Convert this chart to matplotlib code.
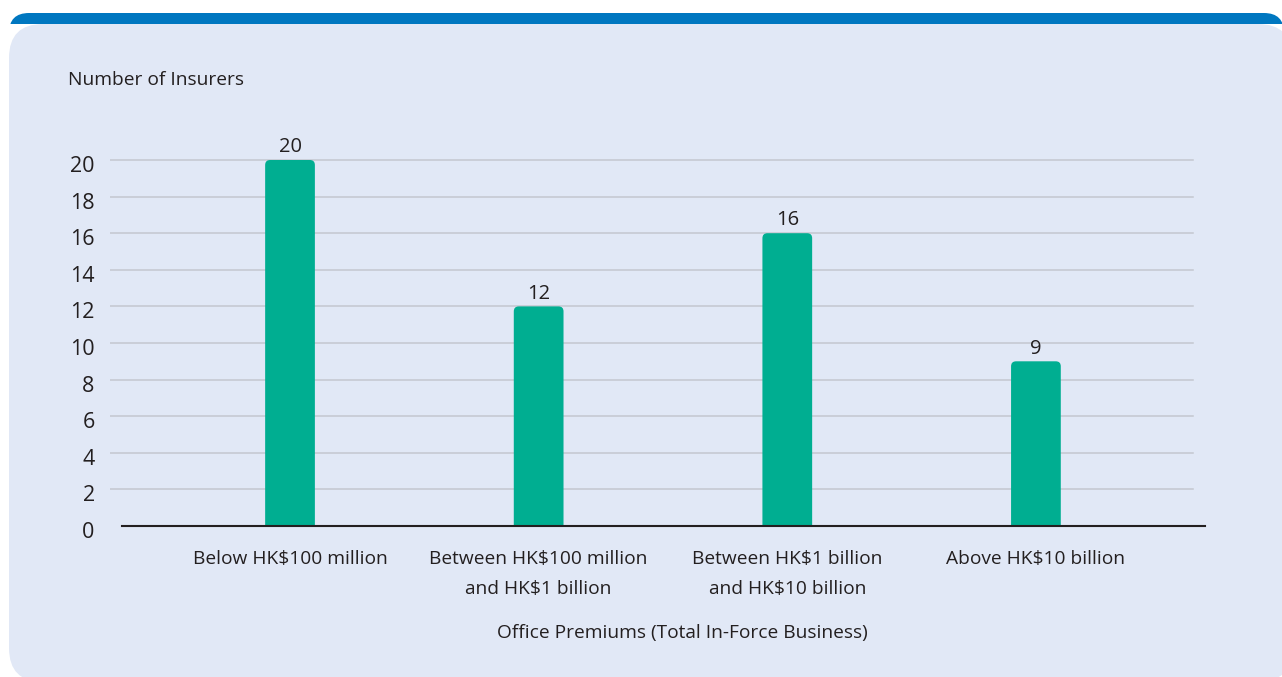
import matplotlib.pyplot as plt
from matplotlib.patches import FancyBboxPatch, Rectangle
from matplotlib.transforms import ScaledTranslation

categories = ['Below HK$100 million', 'Between HK$100 million\nand HK$1 billion',
              'Between HK$1 billion\nand HK$10 billion', 'Above HK$10 billion']
insurers = [20, 12, 16, 9]
y_ticks = list(range(0, 21, 2))

W, H = 1282, 677
BAR = '#00AE91'
TXT = '#231F20'
PANEL = '#E1E8F6'
BLUE = '#0077C0'
plt.rcParams['font.family'] = ['Open Sans', 'DejaVu Sans']


def box(x0, y0, x1, y1):
    # pixel box (top-left origin) -> inches for dpi_scale_trans
    return x0 / 100, (H - y1) / 100, (x1 - x0) / 100, (y1 - y0) / 100


def main():
    fig = plt.figure(figsize=(W / 100, H / 100), dpi=100)
    fig.patch.set_facecolor('white')

    # blue header band, clipped to its strip
    x, y, w, h = box(9, 13, 1284, 120)
    band = FancyBboxPatch((x, y), w, h, boxstyle='round,pad=0,rounding_size=0.2',
                          transform=fig.dpi_scale_trans, facecolor=BLUE, edgecolor='none',
                          zorder=-10)
    fig.patches.append(band)
    cx, cy, cw, ch = box(0, 12, W, 24)
    clip = Rectangle((cx, cy), cw, ch, transform=fig.dpi_scale_trans)
    band.set_clip_path(clip)

    x, y, w, h = box(9, 24, 1292, 682)
    panel = FancyBboxPatch((x, y), w, h, boxstyle='round,pad=0,rounding_size=0.34',
                           transform=fig.dpi_scale_trans, facecolor=PANEL, edgecolor='none',
                           zorder=-9)
    fig.patches.append(panel)

    ymax = 22
    px_per_y = 18.3
    top_px = 526 - ymax * px_per_y
    ax = fig.add_axes([110 / W, (H - 526) / H, 1095 / W, (526 - top_px) / H])
    ax.patch.set_alpha(0)
    xlim = (-0.724, 3.68)
    ax.set_xlim(*xlim)
    ax.set_ylim(0, ymax)
    px_per_x = 1095 / (xlim[1] - xlim[0])

    xs = range(len(categories))
    for yv in y_ticks[1:]:
        ax.plot([0, 0.989], [yv, yv], transform=ax.get_yaxis_transform(),
                color='#C3C7CF', lw=1.1, zorder=1)
    ax.plot([0.011, 1], [0, 0], transform=ax.get_yaxis_transform(),
            color=TXT, lw=1.5, zorder=3, clip_on=False)

    bars = ax.bar(xs, insurers, width=0.2, color=BAR, zorder=2)
    # swap the plain rectangles for ones with rounded tops
    r = 5 / px_per_x
    aspect = px_per_x / px_per_y
    for b in bars:
        b.set_visible(False)
        ext = r * aspect
        rb = FancyBboxPatch((b.get_x(), -ext), b.get_width(), b.get_height() + ext,
                            boxstyle=f'round,pad=0,rounding_size={r}',
                            mutation_aspect=aspect, facecolor=BAR, edgecolor='none',
                            zorder=2)
        ax.add_patch(rb)

    for i, v in zip(xs, insurers):
        ax.annotate(str(v), (i, v), xytext=(0, 2), textcoords='offset points',
                    ha='center', va='bottom', fontsize=14.5, color=TXT)

    for s in ax.spines.values():
        s.set_visible(False)
    ax.set_yticks(y_ticks)
    ax.tick_params(axis='y', length=0, pad=11, labelsize=15.5, labelcolor=TXT)
    ax.set_xticks(list(xs))
    ax.set_xticklabels(categories, fontsize=13.8, color=TXT, linespacing=1.85)
    ax.tick_params(axis='x', length=0, pad=17)

    down = ScaledTranslation(0, -4 / 100, fig.dpi_scale_trans)
    for lab in ax.get_yticklabels():
        lab.set_transform(lab.get_transform() + down)

    fig.text(68 / W, 1 - 80 / H, 'Number of Insurers', fontsize=13.8, color=TXT,
             ha='left', va='center')
    fig.text(682 / W, 1 - 633 / H, 'Office Premiums (Total In-Force Business)',
             fontsize=13.8, color=TXT, ha='center', va='center')

    fig.savefig('out.png', dpi=100, facecolor='white')


if __name__ == '__main__':
    main()
